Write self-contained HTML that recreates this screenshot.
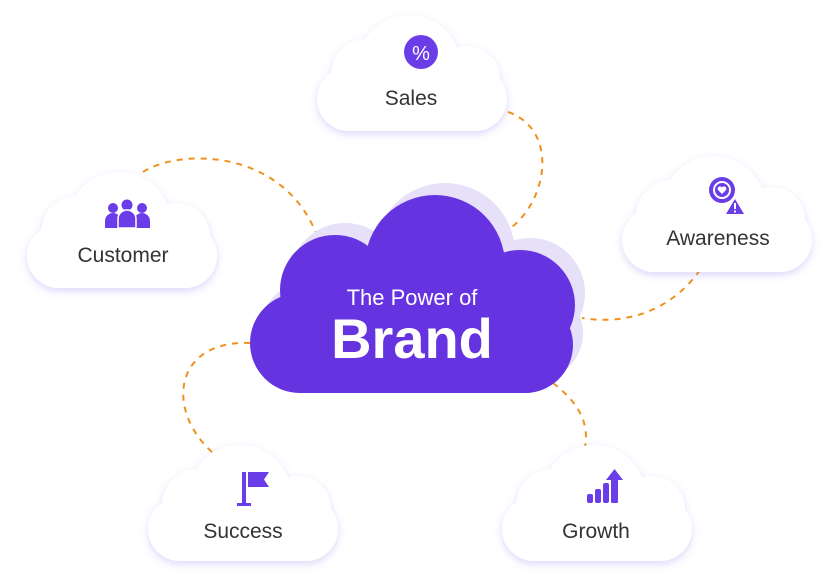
<!DOCTYPE html>
<html><head><meta charset="utf-8"><style>
html,body{margin:0;padding:0;background:#fff;width:838px;height:578px;overflow:hidden}
svg{display:block}
text{font-family:"Liberation Sans",sans-serif}
</style></head><body>
<svg width="838" height="578" viewBox="0 0 838 578" xmlns="http://www.w3.org/2000/svg">
<defs>
<filter id="sh" x="-20%" y="-20%" width="140%" height="150%">
<feDropShadow dx="0" dy="3" stdDeviation="4" flood-color="#8a6ff0" flood-opacity="0.28"/>
</filter>
<g id="sc">
<circle cx="92" cy="52" r="52"/>
<circle cx="50" cy="60" r="36"/>
<circle cx="150" cy="64" r="33"/>
<rect x="0" y="52" width="190" height="64" rx="32"/>
</g>
<g id="mc">
<circle cx="435" cy="265" r="70"/>
<circle cx="335" cy="290" r="55"/>
<circle cx="300" cy="343" r="50"/>
<circle cx="520" cy="305" r="55"/>
<circle cx="525" cy="345" r="48"/>
<rect x="300" y="290" width="225" height="103"/>
</g>
</defs>

<g fill="none" stroke="#f0901e" stroke-width="2" stroke-dasharray="6,6">
<path d="M508,112 C560,130 548,205 505,232"/>
<path d="M143,172 C180,148 285,148 318,238"/>
<path d="M700,270 C670,312 625,325 582,318"/>
<path d="M250,343 C168,340 165,420 222,460"/>
<path d="M553,383 C575,400 590,420 585,447"/>
</g>

<use href="#mc" fill="#e6e0f8" transform="translate(10,-12)"/>
<use href="#mc" fill="#6633e0"/>
<text x="412" y="305" text-anchor="middle" fill="#fff" font-size="22" font-weight="300">The Power of</text>
<text x="412" y="358" text-anchor="middle" fill="#fff" font-size="56" font-weight="bold">Brand</text>

<g fill="#fff" filter="url(#sh)">
<use href="#sc" transform="translate(317,15)"/>
<use href="#sc" transform="translate(27,172)"/>
<use href="#sc" transform="translate(622,156)"/>
<use href="#sc" transform="translate(148,445)"/>
<use href="#sc" transform="translate(502,445)"/>
</g>

<g fill="#333" font-size="21" text-anchor="middle">
<text x="411" y="105">Sales</text>
<text x="123" y="262">Customer</text>
<text x="718" y="245">Awareness</text>
<text x="243" y="538">Success</text>
<text x="596" y="538">Growth</text>
</g>

<g fill="#6a3de8">
<circle cx="421" cy="52" r="17"/>
<circle cx="113" cy="208" r="5"/><circle cx="127" cy="205" r="5.5"/><circle cx="142" cy="208" r="5"/>
<path d="M105,228 v-7 a8,8 0 0 1 16,0 v7z"/>
<path d="M134,228 v-7 a8,8 0 0 1 16,0 v7z"/>
<path d="M118,228 v-9 a9,9 0 0 1 18,0 v9z" stroke="#fff" stroke-width="1.5"/>
<circle cx="722" cy="190" r="13"/>
<path d="M735,199 l9,15 h-18z"/>
<rect x="242" y="472" width="4" height="33"/>
<rect x="237" y="503" width="14" height="3"/>
<path d="M248,472 h21 l-5,7.5 l5,7.5 h-21z"/>
<rect x="587" y="494" width="6" height="9" rx="2"/>
<rect x="595" y="489" width="6" height="14" rx="2"/>
<rect x="603" y="483" width="6" height="20" rx="2"/>
<rect x="611" y="478" width="7" height="25" rx="1"/>
<path d="M606,480 l8.5,-11 l8.5,11z"/>
</g>
<text x="421" y="60" text-anchor="middle" fill="#fff" font-size="20">%</text>
<circle cx="722" cy="190" r="8" fill="none" stroke="#fff" stroke-width="2"/>
<path d="M722,194 l-4,-4 a2.3,2.3 0 0 1 4,-2.5 a2.3,2.3 0 0 1 4,2.5z" fill="#fff"/>
<rect x="734" y="203" width="2" height="6" fill="#fff"/><rect x="734" y="210.5" width="2" height="2" fill="#fff"/>
</svg>
</body></html>
